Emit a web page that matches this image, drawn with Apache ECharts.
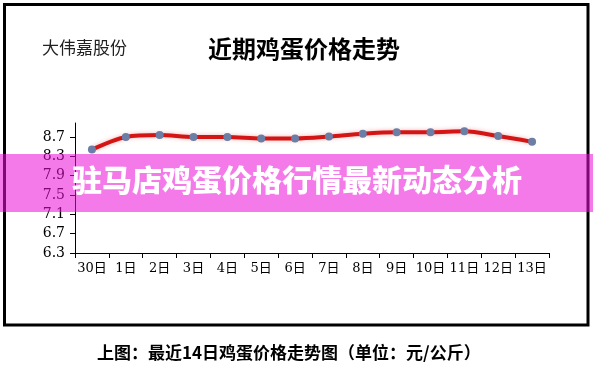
<!DOCTYPE html>
<html>
<head>
<meta charset="utf-8">
<script src="https://cdn.jsdelivr.net/npm/echarts@6/dist/echarts.min.js"></script>
<style>
html,body{margin:0;padding:0;background:#fff;}
#c{width:593px;height:366px;}
</style>
</head>
<body>
<div id="c"></div>
<script>
const categories = ['30日','1日','2日','3日','4日','5日','6日','7日','8日','9日','10日','11日','12日','13日'];
const prices = [8.44, 8.70, 8.74, 8.70, 8.70, 8.67, 8.67, 8.71, 8.77, 8.80, 8.80, 8.82, 8.72, 8.60];
const yTickLabels = ['6.3','6.7','7.1','7.5','7.9','8.3','8.7'];
const companyText = '大伟嘉股份';
const titleText = '近期鸡蛋价格走势';
const bannerText = '驻马店鸡蛋价格行情最新动态分析';
const captionText = '上图：最近14日鸡蛋价格走势图（单位：元/公斤）';

const yTicks = yTickLabels.map(Number);
const chart = echarts.init(document.getElementById('c'));
const serifFont = '"DejaVu Serif", "Noto Sans CJK SC", serif';
chart.setOption({
  animation: false,
  backgroundColor: '#ffffff',
  grid: {left: 75, right: 44, top: 123, bottom: 113, containLabel: false},
  xAxis: {
    type: 'category',
    data: categories,
    boundaryGap: true,
    axisLine: {lineStyle: {color: '#000', width: 1}},
    axisTick: {show: true, length: 5, inside: false, lineStyle: {color: '#000'}},
    axisLabel: {color: '#000', fontSize: 13, fontFamily: serifFont, margin: 9, interval: 0}
  },
  yAxis: {
    type: 'value',
    min: 6.3,
    max: 8.99,
    axisLine: {show: true, lineStyle: {color: '#000', width: 1}},
    axisTick: {show: true, length: 5, customValues: yTicks, lineStyle: {color: '#000'}},
    axisLabel: {color: '#000', fontSize: 14, fontFamily: serifFont, margin: 10,
      customValues: yTicks, formatter: v => Number(v).toFixed(1)},
    splitLine: {show: false}
  },
  series: [{
    type: 'line',
    data: prices,
    smooth: 0.3,
    clip: false,
    symbol: 'circle',
    symbolSize: 8,
    lineStyle: {color: '#d41515', width: 4, shadowColor: 'rgba(220,40,40,0.35)', shadowBlur: 4},
    itemStyle: {color: '#6a7ea6', borderWidth: 0}
  }],
  graphic: [
    {type: 'rect', z: 0, shape: {x: 4.5, y: 4.5, width: 583.5, height: 320.5},
      style: {fill: 'none', stroke: '#000', lineWidth: 3}},
    {type: 'text', z: 10, left: 42, top: 39,
      style: {text: companyText, fontSize: 17, fontFamily: '"Noto Sans CJK SC", sans-serif', fill: '#222'}},
    {type: 'text', z: 10, left: 208, top: 37,
      style: {text: titleText, fontSize: 24, fontWeight: 'bold', fontFamily: '"Noto Sans CJK SC", serif', fill: '#000'}},
    {type: 'text', z: 10, left: 97, top: 344,
      style: {text: captionText, fontSize: 17, fontWeight: 'bold', fontFamily: '"Noto Sans CJK SC", sans-serif', fill: '#000'}},
    {type: 'rect', z: 100, shape: {x: 0, y: 154, width: 593, height: 58},
      style: {fill: 'rgba(235,12,215,0.55)'}},
    {type: 'text', z: 101, left: 72, top: 165,
      style: {text: bannerText, fontSize: 30, fontWeight: 900, fontFamily: '"Noto Sans CJK SC", sans-serif', fill: '#fff'}}
  ]
});
</script>
</body>
</html>
